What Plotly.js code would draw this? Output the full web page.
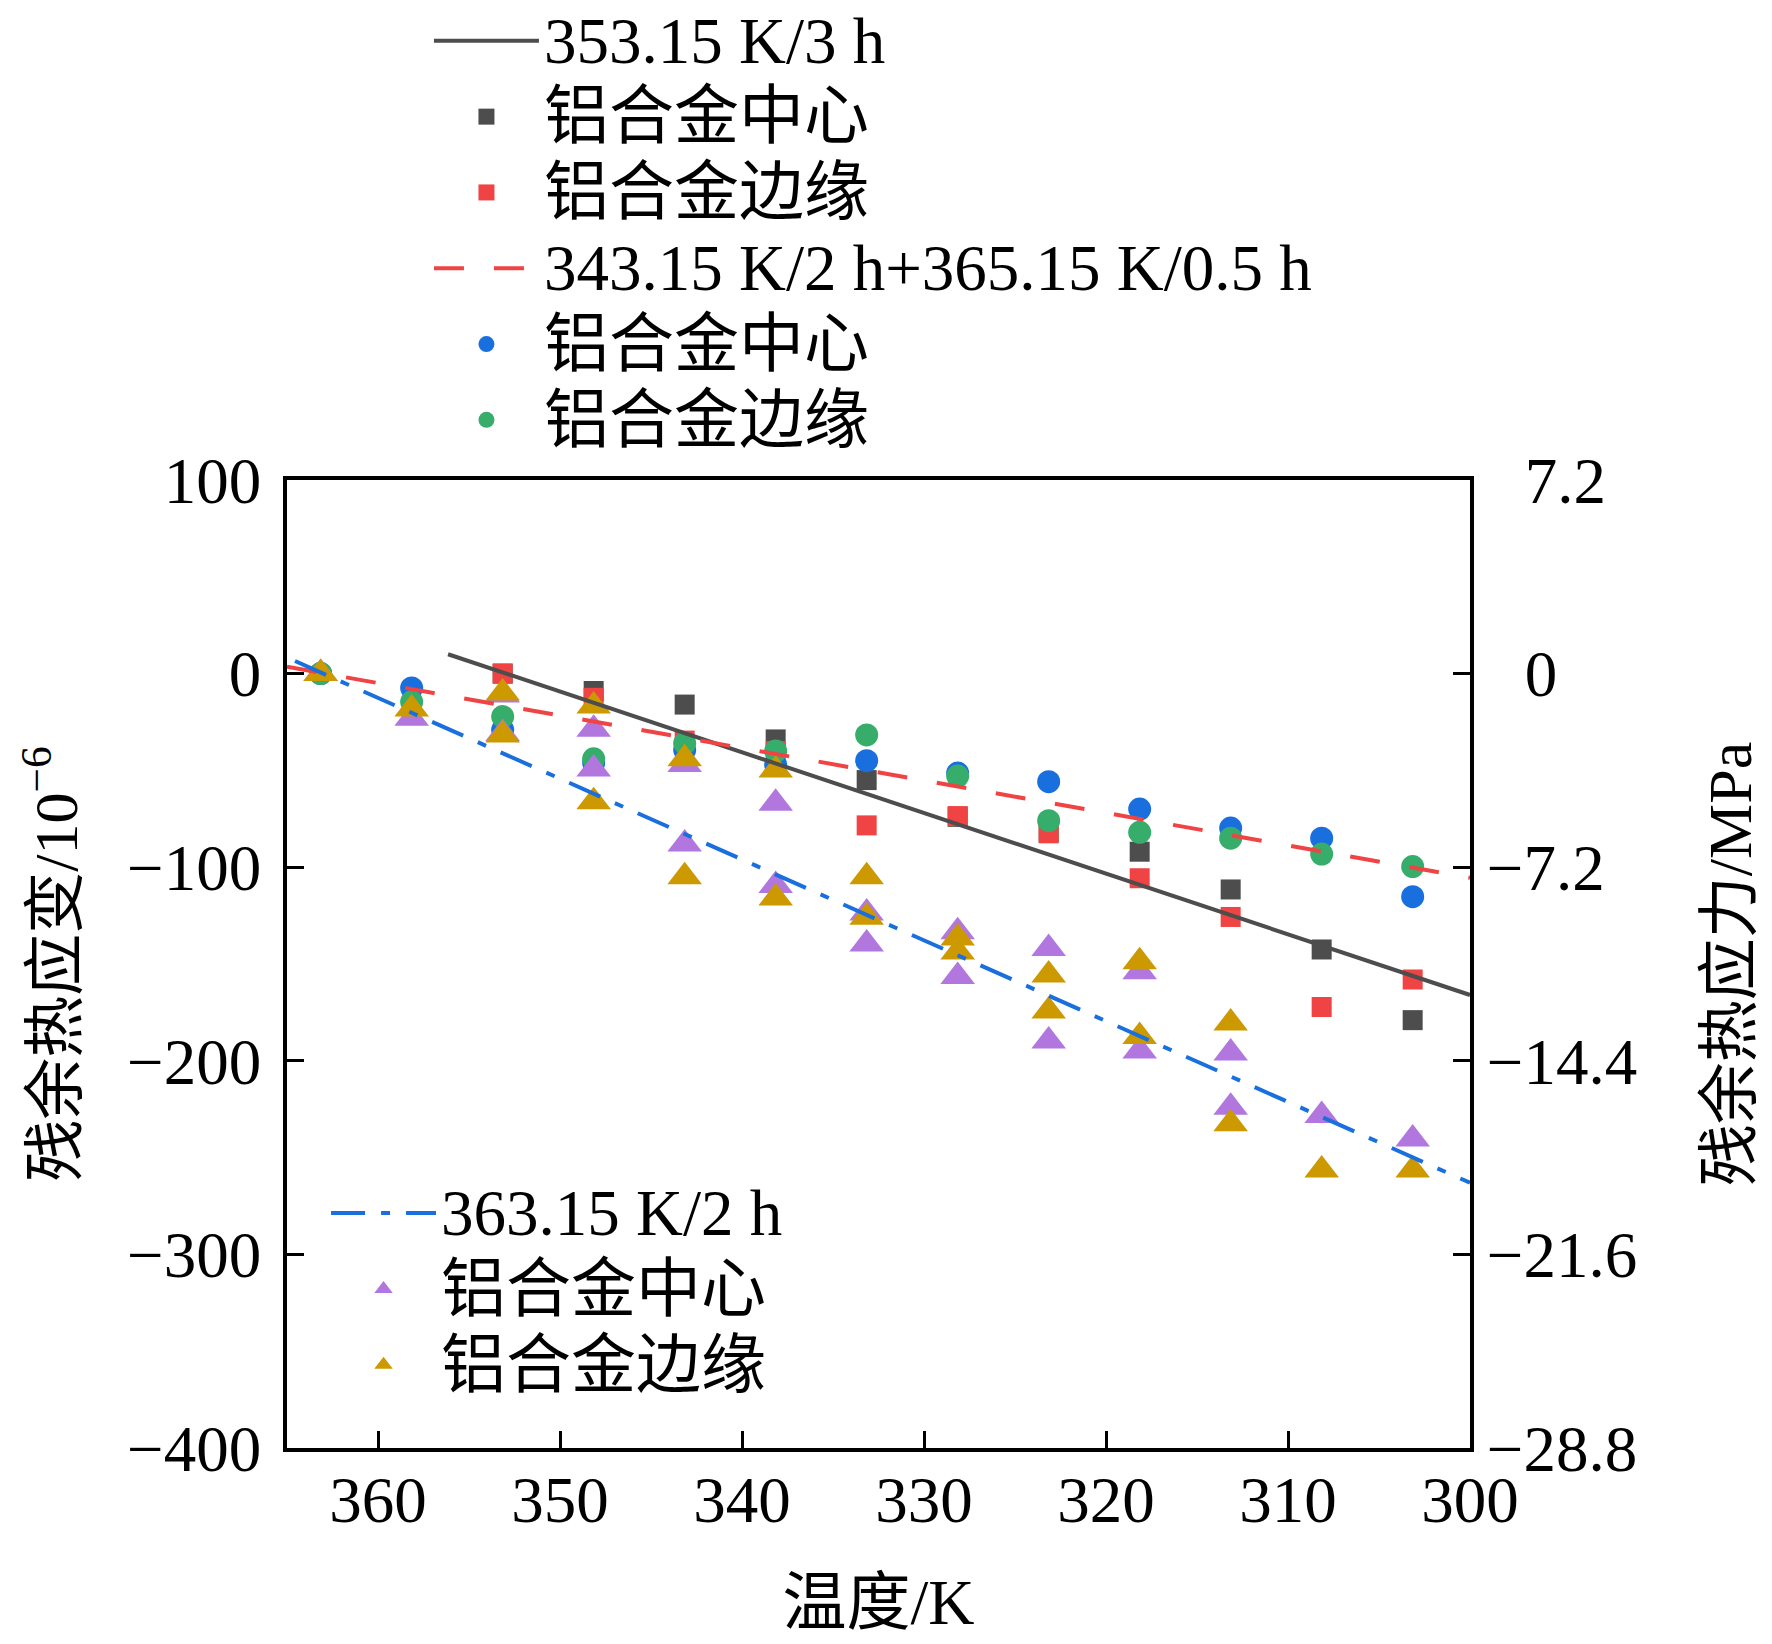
<!DOCTYPE html>
<html>
<head>
<meta charset="utf-8">
<script src="https://cdn.plot.ly/plotly-3.0.1.min.js"></script>
<style>
  html, body { margin: 0; padding: 0; background: #fff; }
  #chart { width: 1772px; height: 1644px; }
</style>
</head>
<body>
<div id="chart"></div>
<script>
// temperatures (K) shared by the two-step treatment
var temps = [363.15, 358.15, 353.15, 348.15, 343.15, 338.15, 333.15, 328.15, 323.15, 318.15, 313.15, 308.15, 303.15];

// 353.15 K/3 h
var temps3h = [353.15, 348.15, 343.15, 338.15, 333.15, 328.15, 323.15, 318.15, 313.15, 308.15, 303.15];
var centre3h = [0, -9, -16, -34, -55, -74, -82, -92, -111.5, -142.5, -179];
var edge3h = [0, -12.5, -34.6, -40, -78.4, -73.6, -82.5, -105.7, -125.7, -172.2, -158];

// 343.15 K/2 h + 365.15 K/0.5 h
var centreStep = [0, -7.4, -29.1, -46, -39.5, -47, -45, -51.4, -55.8, -70, -79.8, -85, -115.2];
var edgeStep = [0, -14.6, -22.2, -44, -36, -40, -31.7, -52.9, -76, -82, -85, -93.2, -99.7];

// 363.15 K/2 h (two readings at most temperatures)
var temps2h = [363.15, 358.15, 353.15, 353.15, 348.15, 348.15, 343.15, 343.15, 338.15, 338.15, 333.15, 333.15,
	328.15, 328.15, 323.15, 323.15, 318.15, 318.15, 313.15, 313.15, 308.15, 303.15];
var centre2h = [0, -23, -11, -31, -28.7, -49.3, -47, -88, -67, -109.5, -123.7, -139.7,
	-133.3, -156.5, -142, -189.8, -154, -195, -196, -224, -228.3, -240.4];
var edge2h = [0, -18.3, -10, -31.7, -16.8, -66.2, -44, -104.9, -49.8, -115.9, -104.9, -125.8,
	-136.6, -143.8, -155.7, -174.3, -148.8, -187.5, -180.5, -232.5, -256.4, -256.4];

// fitted lines (end points)
var fit3hX = [356.15, 300];
var fit3hY = [10, -166];
var fitStepX = [365, 300];
var fitStepY = [3.5, -105.5];
var fit2hX = [364.56, 300];
var fit2hY = [6.5, -263];

var xTicks = [360, 350, 340, 330, 320, 310, 300];
var strainTicks = [-400, -300, -200, -100, 0, 100];
var stressTicks = [-28.8, -21.6, -14.4, -7.2, 0, 7.2];
// positive labels padded so the digits line up with the negative ones
var stressText = ['\u221228.8', '\u221221.6', '\u221214.4', '\u22127.2', '\u2002\u200a0', '\u2002\u200a7.2'];

var serif = '"Liberation Serif", "Times New Roman", "Noto Sans CJK SC", serif';

function label(s) {
	return '<span style="font-size:65px">' + s + '</span>';
}

function markers(x, y, name, symbol, color, size, legend, rank) {
	return {
		x: x, y: y, name: label(name), type: 'scatter', mode: 'markers',
		marker: { symbol: symbol, color: color, size: size },
		legend: legend, legendrank: rank, hoverinfo: 'x+y'
	};
}

function fitLine(x, y, name, color, dash, legend, rank) {
	return {
		x: x, y: y, name: label(name), type: 'scatter', mode: 'lines',
		line: { color: color, width: 4, dash: dash },
		legend: legend, legendrank: rank, hoverinfo: 'skip'
	};
}

var data = [
	markers(temps3h, centre3h, '铝合金中心', 'square', '#4d4d4d', 20, 'legend', 2),
	markers(temps3h, edge3h, '铝合金边缘', 'square', '#f04343', 20, 'legend', 3),
	markers(temps, centreStep, '铝合金中心', 'circle', '#1a6fdf', 23, 'legend', 5),
	markers(temps, edgeStep, '铝合金边缘', 'circle', '#37ad6b', 23, 'legend', 6),
	markers(temps2h, centre2h, '铝合金中心', 'triangle-up', '#b177de', 30, 'legend2', 2),
	markers(temps2h, edge2h, '铝合金边缘', 'triangle-up', '#cc9900', 30, 'legend2', 3),
	fitLine(fit3hX, fit3hY, '353.15 K/3 h', '#4d4d4d', 'solid', 'legend', 1),
	fitLine(fitStepX, fitStepY, '343.15 K/2 h+365.15 K/0.5 h', '#f04343', '30px,30px', 'legend', 4),
	fitLine(fit2hX, fit2hY, '363.15 K/2 h', '#1a6fdf', '34px,16px,9px,16px', 'legend2', 1),
	// empty trace so the stress axis is drawn
	{ x: [], y: [], type: 'scatter', yaxis: 'y2', showlegend: false, hoverinfo: 'skip' }
];

var axisBase = {
	ticks: 'inside', ticklen: 17, tickwidth: 3, tickcolor: '#000',
	showline: true, linewidth: 3.5, linecolor: '#000',
	showgrid: false, zeroline: false,
	tickfont: { family: serif, size: 65, color: '#000' }
};

var layout = {
	width: 1772, height: 1644,
	margin: { l: 287, r: 302, t: 480, b: 196, autoexpand: false },
	paper_bgcolor: '#fff', plot_bgcolor: '#fff',
	font: { family: serif, color: '#000' },
	xaxis: Object.assign({}, axisBase, {
		range: [365, 300], tickmode: 'array', tickvals: xTicks, mirror: true,
		ticklabelstandoff: -8,
		title: { text: '温度/K', font: { family: serif, size: 64, color: '#000' }, standoff: 45 }
	}),
	yaxis: Object.assign({}, axisBase, {
		range: [-400, 100], tickmode: 'array', tickvals: strainTicks, mirror: true,
		ticklabelstandoff: 9,
		title: { text: '残余热应变/10<sup>\u22126</sup>', font: { family: serif, size: 62, color: '#000' }, standoff: 30 }
	}),
	yaxis2: Object.assign({}, axisBase, {
		overlaying: 'y', side: 'right', range: [-28.8, 7.2],
		tickmode: 'array', tickvals: stressTicks, ticktext: stressText,
		title: { text: '残余热应力/MPa', font: { family: serif, size: 62, color: '#000' }, standoff: 72 }
	}),
	legend: {
		x: 0.12, xanchor: 'left', y: 1.498, yanchor: 'top',
		bgcolor: 'rgba(0,0,0,0)', borderwidth: 0, itemwidth: 105,
		font: { family: serif, size: 56, color: '#000' }, tracegroupgap: 0
	},
	legend2: {
		x: 0.033, xanchor: 'left', y: 0.287, yanchor: 'top',
		bgcolor: 'rgba(0,0,0,0)', borderwidth: 0, itemwidth: 105,
		font: { family: serif, size: 56, color: '#000' }, tracegroupgap: 0
	},
	showlegend: true
};

Plotly.newPlot('chart', data, layout, { displayModeBar: false, responsive: false });
</script>
</body>
</html>
